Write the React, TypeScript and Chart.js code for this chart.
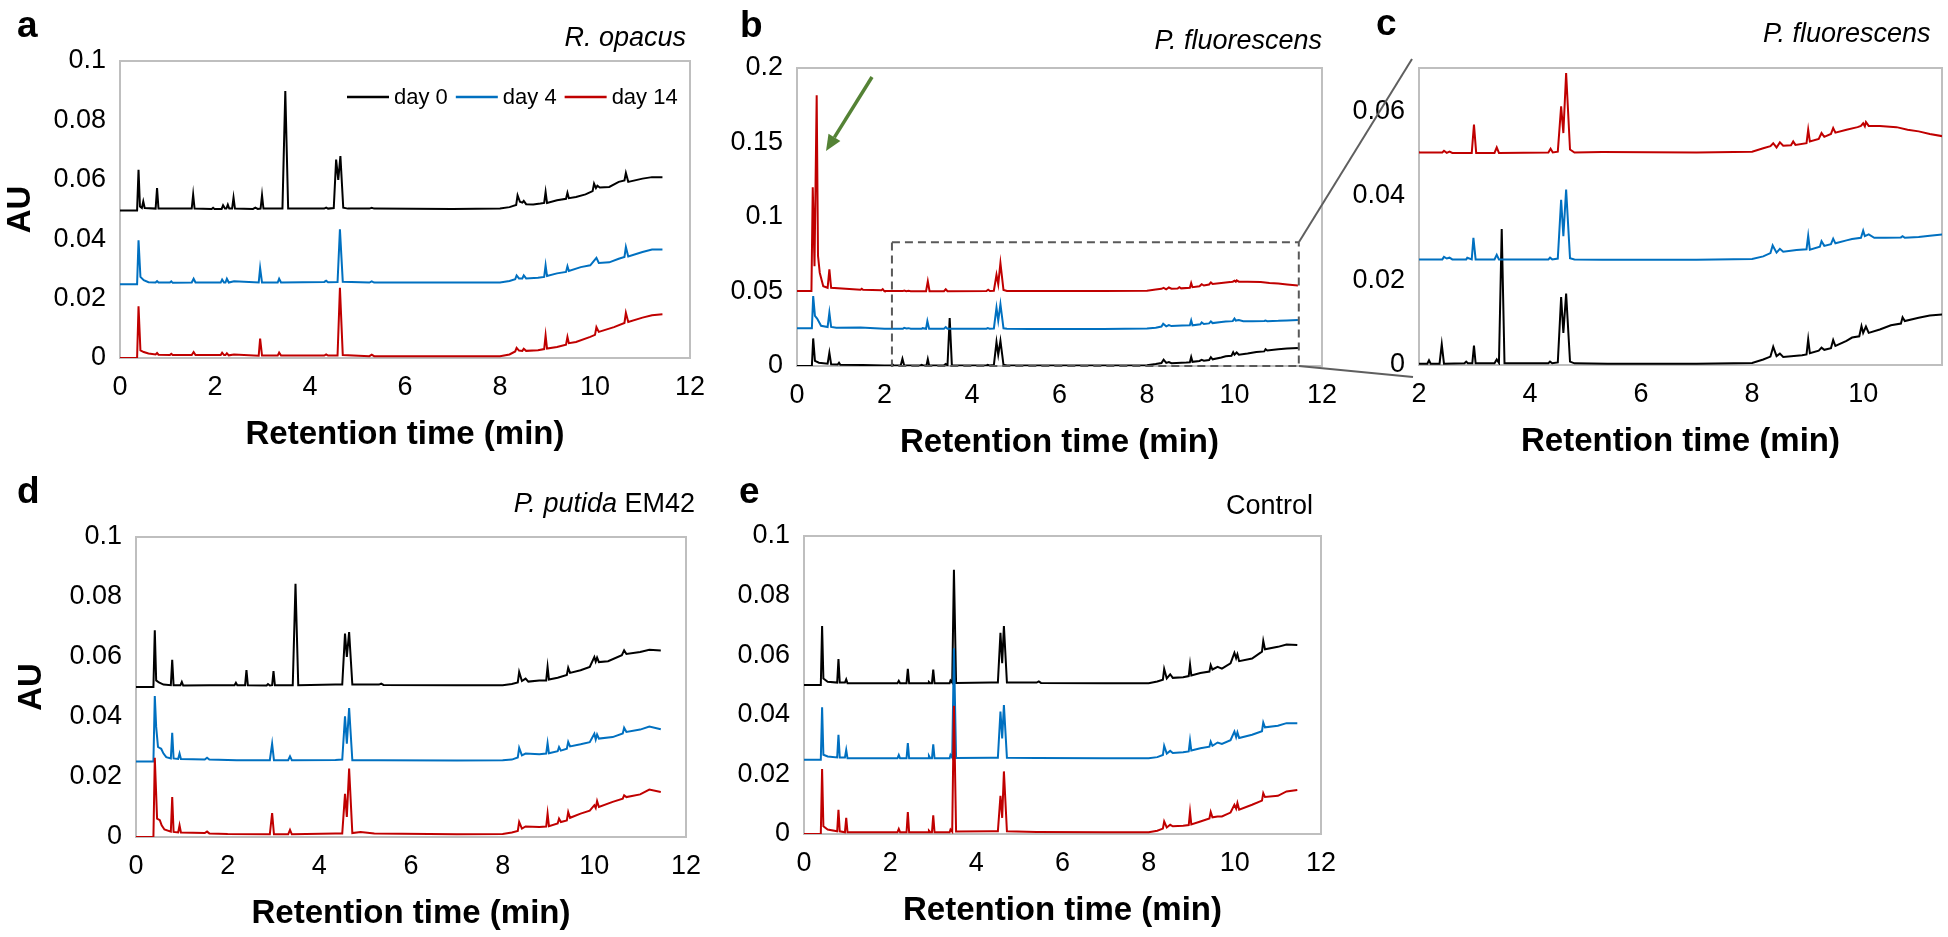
import React, { useEffect, useRef } from 'react';
import { Chart, registerables } from 'chart.js';

Chart.register(...registerables);

type Pt = [number, number];

const FONT = "'Liberation Sans', Arial, Helvetica, sans-serif";
const SERIES_LABELS = ['day 0', 'day 4', 'day 14'];
const SERIES_COLORS = ['#000000', '#0070C0', '#C00000'];
const X_TITLE = 'Retention time (min)';
const Y_TITLE = 'AU';

// ---------- Panel a : R. opacus ----------
const A_DAY0: Pt[] = [[0,0.0497],[0.36,0.0497],[0.39,0.0634],[0.42,0.051],[0.46,0.0505],[0.49,0.0527],[0.52,0.0505],[0.75,0.0503],[0.78,0.0572],[0.81,0.0503],[1.51,0.0503],[1.54,0.055],[1.57,0.0503],[1.93,0.0502],[1.96,0.0506],[1.99,0.0502],[2.14,0.0502],[2.17,0.0514],[2.21,0.0503],[2.24,0.0503],[2.27,0.0516],[2.3,0.0503],[2.36,0.0503],[2.39,0.054],[2.42,0.0503],[2.8,0.0502],[2.85,0.0506],[2.9,0.0502],[2.96,0.0503],[2.99,0.0548],[3.02,0.0503],[3.42,0.0503],[3.48,0.0899],[3.54,0.0503],[4.3,0.0503],[4.34,0.0506],[4.38,0.0503],[4.5,0.0505],[4.55,0.0668],[4.595,0.06],[4.64,0.068],[4.7,0.0506],[4.8,0.0503],[5.25,0.0503],[5.3,0.0506],[5.35,0.0503],[7.0,0.0502],[8.0,0.0503],[8.2,0.0508],[8.34,0.0515],[8.37,0.0548],[8.42,0.0526],[8.47,0.0523],[8.5,0.0529],[8.55,0.0518],[8.7,0.0517],[8.85,0.052],[8.93,0.0522],[8.96,0.0559],[8.99,0.0522],[9.2,0.0531],[9.39,0.0536],[9.42,0.0556],[9.45,0.0538],[9.6,0.0542],[9.8,0.0551],[9.95,0.0562],[9.98,0.0587],[10.02,0.0572],[10.05,0.058],[10.1,0.0574],[10.3,0.0576],[10.5,0.0593],[10.62,0.0598],[10.65,0.0623],[10.7,0.0593],[11.0,0.0604],[11.2,0.0609],[11.42,0.0609]];
const A_DAY4: Pt[] = [[0,0.0248],[0.36,0.0248],[0.39,0.0396],[0.43,0.0273],[0.5,0.0262],[0.6,0.0255],[0.75,0.0254],[0.78,0.0259],[0.81,0.0254],[1.05,0.0254],[1.08,0.0258],[1.11,0.0253],[1.51,0.0254],[1.55,0.0267],[1.59,0.0254],[2.12,0.0254],[2.15,0.0264],[2.19,0.0254],[2.22,0.0254],[2.25,0.0267],[2.29,0.0254],[2.4,0.0258],[2.92,0.0254],[2.95,0.0303],[2.99,0.0254],[3.32,0.0254],[3.35,0.0267],[3.39,0.0254],[4.3,0.0256],[4.34,0.026],[4.38,0.0255],[4.58,0.0256],[4.63,0.0433],[4.69,0.0257],[5.25,0.0254],[5.3,0.0258],[5.35,0.0254],[8.0,0.0254],[8.2,0.0259],[8.32,0.0265],[8.35,0.0278],[8.4,0.0268],[8.47,0.0268],[8.5,0.0278],[8.55,0.0268],[8.8,0.027],[8.93,0.0273],[8.96,0.0312],[8.99,0.0276],[9.2,0.0285],[9.39,0.029],[9.42,0.0309],[9.45,0.0293],[9.7,0.0306],[9.9,0.0312],[10.03,0.0337],[10.08,0.032],[10.3,0.0322],[10.5,0.0334],[10.62,0.034],[10.65,0.0374],[10.7,0.0342],[11.0,0.0357],[11.2,0.0365],[11.42,0.0365]];
const A_DAY14: Pt[] = [[0,0.0],[0.36,0.0],[0.39,0.0174],[0.43,0.0026],[0.5,0.002],[0.6,0.0015],[0.75,0.0012],[0.78,0.0017],[0.81,0.0011],[1.05,0.001],[1.08,0.0014],[1.11,0.001],[1.51,0.001],[1.55,0.002],[1.59,0.001],[2.12,0.001],[2.15,0.0018],[2.19,0.001],[2.22,0.001],[2.25,0.0016],[2.29,0.0009],[2.4,0.0012],[2.92,0.0008],[2.95,0.0065],[2.99,0.0008],[3.32,0.0008],[3.35,0.0018],[3.39,0.0008],[4.3,0.0008],[4.34,0.0012],[4.38,0.0008],[4.58,0.0008],[4.63,0.0236],[4.69,0.001],[5.25,0.0006],[5.3,0.0011],[5.35,0.0006],[8.0,0.0006],[8.2,0.0012],[8.32,0.0022],[8.35,0.0034],[8.4,0.0025],[8.47,0.0024],[8.5,0.0031],[8.55,0.0024],[8.8,0.0026],[8.93,0.003],[8.96,0.0076],[8.99,0.0032],[9.2,0.0037],[9.39,0.0045],[9.42,0.0071],[9.45,0.005],[9.6,0.0054],[9.9,0.0071],[10.0,0.0078],[10.03,0.0104],[10.08,0.0088],[10.4,0.0104],[10.62,0.0118],[10.65,0.0152],[10.7,0.0121],[11.0,0.0136],[11.2,0.0144],[11.42,0.0147]];

// ---------- Panels b & c : P. fluorescens ----------
const PF_DAY0: Pt[] = [[0,0.0],[0.34,0.0],[0.37,0.0185],[0.41,0.0034],[0.5,0.0022],[0.7,0.0015],[0.74,0.0089],[0.78,0.0012],[0.93,0.001],[0.96,0.0022],[0.99,0.0008],[1.5,0.0007],[2.0,0.0003],[2.15,0.0003],[2.18,0.0011],[2.21,0.0003],[2.37,0.0003],[2.41,0.0049],[2.45,0.0003],[2.82,0.0004],[2.85,0.0008],[2.88,0.0004],[2.96,0.0004],[2.99,0.0046],[3.02,0.0004],[3.36,0.0004],[3.4,0.0013],[3.44,0.0005],[3.49,0.0322],[3.54,0.0004],[4.33,0.0004],[4.36,0.0008],[4.4,0.0004],[4.5,0.0006],[4.56,0.0161],[4.6,0.0076],[4.65,0.0169],[4.72,0.0008],[4.8,0.0004],[5.4,0.0003],[7.0,0.0003],[8.0,0.0005],[8.2,0.0013],[8.33,0.002],[8.38,0.0043],[8.44,0.0021],[8.5,0.0027],[8.56,0.0019],[8.9,0.0023],[8.98,0.0025],[9.01,0.0061],[9.04,0.0028],[9.2,0.0034],[9.25,0.0041],[9.3,0.0036],[9.42,0.004],[9.46,0.0059],[9.5,0.0045],[9.7,0.0057],[9.8,0.0065],[9.93,0.0068],[9.97,0.0092],[10.0,0.0076],[10.05,0.0091],[10.1,0.0076],[10.3,0.0084],[10.5,0.0094],[10.68,0.0098],[10.71,0.0113],[10.75,0.0104],[11.0,0.0112],[11.2,0.0117],[11.45,0.012]];
const PF_DAY4: Pt[] = [[0,0.0253],[0.34,0.0253],[0.37,0.0469],[0.41,0.0336],[0.46,0.0318],[0.55,0.027],[0.7,0.0262],[0.74,0.0358],[0.78,0.0262],[0.9,0.0257],[1.45,0.0258],[2.0,0.025],[2.42,0.025],[2.45,0.0256],[2.5,0.0252],[2.55,0.0254],[2.6,0.025],[2.85,0.025],[2.87,0.0254],[2.95,0.025],[2.98,0.0301],[3.02,0.025],[3.36,0.025],[3.4,0.0261],[3.44,0.025],[4.33,0.025],[4.36,0.0254],[4.4,0.025],[4.5,0.0252],[4.56,0.0391],[4.6,0.0305],[4.65,0.0415],[4.72,0.0253],[4.8,0.025],[5.3,0.0249],[7.0,0.0249],[8.0,0.0251],[8.2,0.0257],[8.33,0.0265],[8.37,0.0283],[8.44,0.0266],[8.5,0.0275],[8.56,0.0268],[8.8,0.0272],[8.98,0.0274],[9.01,0.0306],[9.04,0.0273],[9.22,0.028],[9.25,0.0293],[9.3,0.0282],[9.42,0.0286],[9.46,0.0299],[9.5,0.0288],[9.7,0.0295],[9.8,0.0298],[9.96,0.0301],[10.0,0.0318],[10.03,0.0305],[10.1,0.0309],[10.2,0.0301],[10.4,0.0301],[10.68,0.0302],[10.71,0.0305],[10.75,0.0301],[11.0,0.0303],[11.2,0.0306],[11.45,0.0309]];
const PF_DAY14: Pt[] = [[0,0.0503],[0.33,0.0503],[0.36,0.12],[0.4,0.067],[0.45,0.1817],[0.48,0.074],[0.52,0.0626],[0.6,0.0536],[0.7,0.0525],[0.74,0.0648],[0.78,0.0525],[1.45,0.0512],[1.48,0.0518],[1.51,0.0512],[1.93,0.0508],[1.96,0.0516],[1.99,0.0505],[2.0,0.0503],[2.42,0.0503],[2.45,0.0507],[2.5,0.0502],[2.55,0.0505],[2.6,0.0502],[2.95,0.0502],[2.99,0.0569],[3.03,0.0502],[3.36,0.0502],[3.4,0.0515],[3.44,0.0502],[4.33,0.0503],[4.37,0.0512],[4.41,0.0503],[4.5,0.0505],[4.56,0.0612],[4.6,0.0549],[4.65,0.0691],[4.72,0.051],[4.8,0.0503],[5.3,0.0504],[7.0,0.0503],[8.0,0.0505],[8.2,0.0513],[8.33,0.0518],[8.38,0.0525],[8.44,0.0515],[8.5,0.0527],[8.56,0.0519],[8.7,0.052],[8.74,0.0529],[8.78,0.0521],[8.98,0.0525],[9.01,0.0557],[9.04,0.0529],[9.2,0.0535],[9.25,0.0549],[9.3,0.054],[9.42,0.0547],[9.46,0.0561],[9.5,0.055],[9.7,0.0557],[9.9,0.0563],[9.96,0.0566],[10.0,0.0572],[10.03,0.0565],[10.05,0.0575],[10.1,0.0566],[10.3,0.0566],[10.6,0.0563],[10.8,0.0557],[11.0,0.0553],[11.2,0.0547],[11.45,0.0541]];

// ---------- Panel d : P. putida EM42 ----------
const D_DAY0: Pt[] = [[0,0.05],[0.38,0.05],[0.41,0.0689],[0.44,0.0522],[0.5,0.0515],[0.6,0.0508],[0.76,0.0506],[0.79,0.0591],[0.82,0.0506],[0.97,0.0506],[1.0,0.0517],[1.03,0.0505],[1.6,0.0506],[2.15,0.0506],[2.18,0.0514],[2.21,0.0506],[2.38,0.0506],[2.41,0.0556],[2.44,0.0506],[2.85,0.0505],[2.88,0.051],[2.92,0.0505],[2.97,0.0506],[3.0,0.0553],[3.03,0.0506],[3.42,0.0506],[3.48,0.0844],[3.54,0.0506],[4.35,0.0508],[4.5,0.0508],[4.56,0.0678],[4.6,0.06],[4.65,0.0683],[4.72,0.0508],[5.3,0.0508],[5.35,0.0511],[5.4,0.0507],[7.0,0.0506],[8.0,0.0506],[8.2,0.051],[8.33,0.0515],[8.36,0.055],[8.42,0.052],[8.5,0.0528],[8.56,0.0518],[8.8,0.0522],[8.95,0.0522],[8.98,0.0567],[9.01,0.0525],[9.2,0.0531],[9.4,0.054],[9.43,0.0564],[9.47,0.0547],[9.7,0.0556],[9.9,0.0567],[10.0,0.06],[10.03,0.0585],[10.06,0.0598],[10.1,0.0583],[10.3,0.0586],[10.6,0.0606],[10.65,0.0622],[10.7,0.061],[11.0,0.0617],[11.2,0.0624],[11.45,0.0622]];
const D_DAY4: Pt[] = [[0,0.0252],[0.38,0.0252],[0.41,0.047],[0.44,0.0367],[0.48,0.03],[0.55,0.0294],[0.6,0.0278],[0.66,0.0266],[0.76,0.0262],[0.79,0.0347],[0.82,0.0262],[0.92,0.026],[0.95,0.0278],[0.98,0.026],[1.5,0.0258],[1.55,0.0264],[1.6,0.0258],[2.2,0.0256],[2.92,0.0256],[2.97,0.0311],[3.01,0.0256],[3.32,0.0256],[3.36,0.0269],[3.4,0.0256],[4.35,0.0257],[4.5,0.0258],[4.56,0.0402],[4.6,0.0311],[4.65,0.043],[4.72,0.0256],[5.3,0.0256],[7.0,0.0255],[8.0,0.0256],[8.2,0.0258],[8.33,0.0265],[8.36,0.0297],[8.42,0.0272],[8.5,0.0278],[8.8,0.0276],[8.95,0.0278],[8.98,0.0313],[9.01,0.0279],[9.2,0.0286],[9.23,0.03],[9.27,0.0288],[9.4,0.0294],[9.43,0.0317],[9.47,0.0302],[9.7,0.0309],[9.9,0.0316],[10.0,0.0344],[10.03,0.0325],[10.06,0.0342],[10.1,0.0328],[10.4,0.0333],[10.62,0.0345],[10.65,0.0364],[10.7,0.035],[11.0,0.0358],[11.2,0.0368],[11.45,0.0359]];
const D_DAY14: Pt[] = [[0,0.0],[0.38,0.0],[0.41,0.0264],[0.43,0.0183],[0.46,0.0061],[0.52,0.0056],[0.56,0.0039],[0.62,0.0025],[0.76,0.0018],[0.79,0.0133],[0.82,0.0017],[0.92,0.0015],[0.95,0.0039],[0.98,0.0015],[1.5,0.0013],[1.55,0.0018],[1.6,0.0012],[2.0,0.001],[2.92,0.0009],[2.97,0.008],[3.01,0.0009],[3.32,0.0009],[3.36,0.0024],[3.4,0.0009],[4.35,0.0012],[4.5,0.0012],[4.56,0.0144],[4.6,0.0067],[4.65,0.0228],[4.72,0.0013],[4.9,0.0017],[5.2,0.0012],[7.0,0.0009],[8.0,0.001],[8.2,0.0015],[8.33,0.002],[8.36,0.005],[8.42,0.0028],[8.5,0.0035],[8.8,0.0033],[8.95,0.0035],[8.98,0.0078],[9.01,0.0036],[9.2,0.0045],[9.23,0.0061],[9.27,0.005],[9.4,0.0055],[9.43,0.0083],[9.47,0.0064],[9.7,0.0078],[9.9,0.0088],[10.0,0.0106],[10.03,0.0097],[10.06,0.012],[10.1,0.01],[10.4,0.0117],[10.62,0.0128],[10.65,0.0139],[10.7,0.0133],[11.0,0.0142],[11.2,0.0158],[11.45,0.015]];

// ---------- Panel e : Control ----------
const E_DAY0: Pt[] = [[0,0.05],[0.39,0.05],[0.42,0.0698],[0.45,0.0522],[0.55,0.0511],[0.77,0.0508],[0.8,0.0587],[0.83,0.0508],[0.95,0.0508],[0.98,0.0519],[1.01,0.0506],[2.17,0.0506],[2.2,0.0514],[2.23,0.0506],[2.38,0.0506],[2.41,0.0554],[2.44,0.0506],[2.88,0.0506],[2.9,0.051],[2.93,0.0506],[2.97,0.0506],[3.0,0.0552],[3.03,0.0506],[3.38,0.0506],[3.4,0.0515],[3.44,0.0508],[3.48,0.0887],[3.53,0.0507],[4.35,0.0508],[4.5,0.0508],[4.56,0.0675],[4.6,0.0573],[4.64,0.0698],[4.71,0.0508],[5.4,0.0508],[5.45,0.0512],[5.5,0.0507],[7.0,0.0506],[8.0,0.0506],[8.2,0.0512],[8.33,0.0518],[8.36,0.0554],[8.42,0.0522],[8.5,0.0536],[8.56,0.0524],[8.8,0.0526],[8.93,0.053],[8.96,0.0569],[8.99,0.0532],[9.2,0.054],[9.41,0.0545],[9.44,0.0567],[9.48,0.0552],[9.6,0.0561],[9.7,0.0555],[9.9,0.0573],[9.99,0.0608],[10.03,0.059],[10.06,0.0603],[10.1,0.058],[10.4,0.0589],[10.63,0.0612],[10.66,0.0648],[10.7,0.062],[11.0,0.0628],[11.2,0.0636],[11.45,0.0634]];
const E_DAY4: Pt[] = [[0,0.0249],[0.39,0.0249],[0.42,0.0425],[0.45,0.0266],[0.55,0.026],[0.77,0.0257],[0.8,0.0333],[0.83,0.0257],[0.95,0.0257],[0.98,0.0282],[1.01,0.0254],[2.17,0.0254],[2.2,0.0265],[2.23,0.0254],[2.38,0.0254],[2.41,0.0305],[2.44,0.0254],[2.88,0.0254],[2.9,0.0262],[2.93,0.0254],[2.97,0.0254],[3.0,0.0301],[3.03,0.0254],[3.38,0.0254],[3.4,0.0265],[3.44,0.0256],[3.48,0.0623],[3.53,0.0255],[4.35,0.0256],[4.5,0.0256],[4.56,0.0411],[4.6,0.0321],[4.64,0.0433],[4.71,0.0256],[5.4,0.0255],[7.0,0.0254],[8.0,0.0254],[8.2,0.0258],[8.33,0.0265],[8.36,0.0296],[8.42,0.027],[8.5,0.0279],[8.56,0.0272],[8.8,0.0274],[8.93,0.0277],[8.96,0.0314],[8.99,0.028],[9.2,0.0288],[9.41,0.0293],[9.44,0.031],[9.48,0.0296],[9.6,0.0307],[9.7,0.0302],[9.9,0.0315],[9.99,0.0344],[10.03,0.0325],[10.06,0.0341],[10.1,0.0322],[10.4,0.0333],[10.63,0.0345],[10.66,0.0374],[10.7,0.0358],[11.0,0.0363],[11.2,0.0372],[11.45,0.0372]];
const E_DAY14: Pt[] = [[0,0.0],[0.39,0.0],[0.42,0.0218],[0.45,0.0026],[0.55,0.0015],[0.77,0.0009],[0.8,0.0081],[0.83,0.0009],[0.95,0.0006],[0.98,0.0054],[1.01,0.0006],[2.17,0.0006],[2.2,0.0017],[2.23,0.0006],[2.38,0.0006],[2.41,0.0074],[2.44,0.0006],[2.88,0.0006],[2.9,0.0011],[2.93,0.0006],[2.97,0.0006],[3.0,0.0063],[3.03,0.0006],[3.38,0.0006],[3.4,0.0015],[3.44,0.0008],[3.48,0.043],[3.53,0.0008],[4.35,0.0009],[4.5,0.0009],[4.56,0.0128],[4.6,0.0054],[4.64,0.021],[4.71,0.0009],[5.4,0.0007],[7.0,0.0006],[8.0,0.0006],[8.2,0.0011],[8.33,0.0018],[8.36,0.0042],[8.42,0.0022],[8.5,0.0031],[8.56,0.0026],[8.8,0.0028],[8.93,0.003],[8.96,0.0074],[8.99,0.0032],[9.2,0.0042],[9.41,0.0052],[9.44,0.0074],[9.48,0.0056],[9.6,0.0059],[9.7,0.0059],[9.9,0.0072],[9.99,0.0098],[10.03,0.0085],[10.06,0.0104],[10.1,0.0082],[10.4,0.0098],[10.63,0.0112],[10.66,0.0137],[10.7,0.0124],[11.0,0.0128],[11.2,0.0143],[11.45,0.0148]];

// dashed zoom region drawn on panel b (data units)
const ZOOM_X: [number, number] = [2.17, 11.47];
const ZOOM_Y: [number, number] = [0, 0.083];

interface PanelSpec {
  id: string;
  left: number; top: number; width: number; height: number;
  padTop: number; padRight: number;
  yAxisWidth: number; xAxisHeight: number;
  xMin: number; xMax: number; xStep: number;
  yMax: number; yStep: number;
  series: Pt[][];
  showYTitle: boolean; yTitlePad: number;
  legend?: boolean;
  zoomBox?: boolean;
}

const PANELS: PanelSpec[] = [
  { id: 'a', left: 0, top: 0, width: 720, height: 455, padTop: 61, padRight: 30, yAxisWidth: 120, xAxisHeight: 97,
    xMin: 0, xMax: 12, xStep: 2, yMax: 0.1, yStep: 0.02, series: [A_DAY0, A_DAY4, A_DAY14], showYTitle: true, yTitlePad: 1, legend: true },
  { id: 'b', left: 710, top: 0, width: 640, height: 463, padTop: 68, padRight: 28, yAxisWidth: 87, xAxisHeight: 97,
    xMin: 0, xMax: 12, xStep: 2, yMax: 0.2, yStep: 0.05, series: [PF_DAY0, PF_DAY4, PF_DAY14], showYTitle: false, yTitlePad: 0, zoomBox: true },
  { id: 'c', left: 1350, top: 0, width: 598, height: 462, padTop: 68, padRight: 6, yAxisWidth: 69, xAxisHeight: 97,
    xMin: 2, xMax: 11.42, xStep: 2, yMax: 0.0703, yStep: 0.02, series: [PF_DAY0, PF_DAY4, PF_DAY14], showYTitle: false, yTitlePad: 0 },
  { id: 'd', left: 0, top: 470, width: 720, height: 464, padTop: 67, padRight: 34, yAxisWidth: 136, xAxisHeight: 97,
    xMin: 0, xMax: 12, xStep: 2, yMax: 0.1, yStep: 0.02, series: [D_DAY0, D_DAY4, D_DAY14], showYTitle: true, yTitlePad: 12 },
  { id: 'e', left: 710, top: 470, width: 640, height: 461, padTop: 66, padRight: 29, yAxisWidth: 94, xAxisHeight: 97,
    xMin: 0, xMax: 12, xStep: 2, yMax: 0.1, yStep: 0.02, series: [E_DAY0, E_DAY4, E_DAY14], showYTitle: false, yTitlePad: 0 },
];

const fmt = (v: number | string) => String(Number(Number(v).toFixed(4)));
// ticks only at multiples of the step, between the axis limits
const stepTicks = (step: number) => (s: any) => {
  const out: { value: number }[] = [];
  const start = Math.ceil(s.min / step - 1e-9);
  for (let k = start; k * step <= s.max + 1e-9; k++) out.push({ value: Number((k * step).toFixed(6)) });
  s.ticks = out;
};

const framePlugin = {
  id: 'frameBox',
  beforeDatasetsDraw(chart: any) {
    const { ctx, chartArea } = chart;
    ctx.save();
    ctx.strokeStyle = '#bfbfbf';
    ctx.lineWidth = 2;
    ctx.strokeRect(chartArea.left, chartArea.top, chartArea.right - chartArea.left, chartArea.bottom - chartArea.top);
    ctx.restore();
  },
};

function makeZoomBoxPlugin() {
  return {
    id: 'zoomBoxOverlay',
    afterDatasetsDraw(chart: any) {
      const { ctx } = chart;
      const xs = chart.scales.x, ys = chart.scales.y;
      const l = xs.getPixelForValue(ZOOM_X[0]);
      const r = xs.getPixelForValue(ZOOM_X[1]);
      const t = ys.getPixelForValue(ZOOM_Y[1]);
      const b = ys.getPixelForValue(ZOOM_Y[0]);
      ctx.save();
      ctx.strokeStyle = '#595959';
      ctx.lineWidth = 2;
      ctx.setLineDash([8, 5]);
      ctx.strokeRect(l, t, r - l, b - t);
      ctx.restore();
    },
  };
}

function makeLegendPlugin() {
  return {
    id: 'inlineLegend',
    afterDraw(chart: any) {
      const { ctx, chartArea } = chart;
      let x = chartArea.left + 227;
      const y = chartArea.top + 36;
      ctx.save();
      ctx.font = `22px ${FONT}`;
      ctx.textBaseline = 'middle';
      chart.data.datasets.forEach((ds: any) => {
        ctx.strokeStyle = ds.borderColor;
        ctx.lineWidth = 2.5;
        ctx.beginPath();
        ctx.moveTo(x, y);
        ctx.lineTo(x + 42, y);
        ctx.stroke();
        x += 47;
        ctx.fillStyle = '#000';
        ctx.fillText(ds.label, x, y + 1);
        x += ctx.measureText(ds.label).width + 8;
      });
      ctx.restore();
    },
  };
}

function ChartPanel({ spec }: { spec: PanelSpec }) {
  const ref = useRef<HTMLCanvasElement | null>(null);
  useEffect(() => {
    if (!ref.current) return;
    const plugins: any[] = [framePlugin];
    if (spec.zoomBox) plugins.push(makeZoomBoxPlugin());
    if (spec.legend) plugins.push(makeLegendPlugin());
    const chart = new Chart(ref.current, {
      type: 'line',
      data: {
        datasets: spec.series.map((pts, i) => ({
          label: SERIES_LABELS[i],
          data: pts.map(([x, y]) => ({ x, y })),
          borderColor: SERIES_COLORS[i],
          backgroundColor: SERIES_COLORS[i],
          borderWidth: 2,
          pointRadius: 0,
          tension: 0,
          fill: false,
          order: 2 - i,
        })),
      },
      options: {
        responsive: false,
        animation: false,
        events: [],
        layout: { padding: { left: 0, top: spec.padTop, right: spec.padRight, bottom: 0 } },
        plugins: { legend: { display: false }, tooltip: { enabled: false }, title: { display: false } },
        scales: {
          x: {
            type: 'linear',
            min: spec.xMin,
            max: spec.xMax,
            afterFit: (s: any) => { s.height = spec.xAxisHeight; },
            afterBuildTicks: stepTicks(spec.xStep),
            grid: { display: false, drawTicks: false },
            border: { display: false },
            ticks: { stepSize: spec.xStep, padding: 13, color: '#000', font: { family: FONT, size: 27 }, maxRotation: 0, autoSkip: false, callback: (v: any) => fmt(v) },
            title: { display: true, text: X_TITLE, color: '#000', font: { family: FONT, size: 33, weight: 'bold' }, padding: { top: 0, bottom: 0 } },
          },
          y: {
            type: 'linear',
            min: 0,
            max: spec.yMax,
            afterFit: (s: any) => { s.width = spec.yAxisWidth; },
            afterBuildTicks: stepTicks(spec.yStep),
            grid: { display: false, drawTicks: false },
            border: { display: false },
            ticks: { stepSize: spec.yStep, padding: 14, color: '#000', font: { family: FONT, size: 27 }, autoSkip: false, callback: (v: any) => fmt(v) },
            title: { display: spec.showYTitle, text: Y_TITLE, color: '#000', font: { family: FONT, size: 33, weight: 'bold' }, padding: { top: spec.yTitlePad, bottom: 0 } },
          },
        },
      } as any,
      plugins,
    });
    return () => chart.destroy();
  }, [spec]);
  return (
    <canvas
      ref={ref}
      width={spec.width}
      height={spec.height}
      style={{ position: 'absolute', left: spec.left, top: spec.top, width: spec.width, height: spec.height }}
    />
  );
}

function Txt(props: { x: number; y: number; size: number; bold?: boolean; italic?: boolean; right?: boolean; children: React.ReactNode }) {
  const { x, y, size, bold, italic, right, children } = props;
  return (
    <div
      style={{
        position: 'absolute',
        left: x,
        top: y - 0.8465 * size,
        fontFamily: FONT,
        fontSize: size,
        lineHeight: `${size}px`,
        fontWeight: bold ? 'bold' : 'normal',
        fontStyle: italic ? 'italic' : 'normal',
        whiteSpace: 'nowrap',
        color: '#000',
        transform: right ? 'translateX(-100%)' : undefined,
      }}
    >
      {children}
    </div>
  );
}

export default function App() {
  return (
    <div style={{ position: 'absolute', left: 0, top: 0, width: 1948, height: 937, overflow: 'hidden', background: '#fff' }}>
      {PANELS.map((p) => <ChartPanel key={p.id} spec={p} />)}

      <svg width={1948} height={937} style={{ position: 'absolute', left: 0, top: 0, pointerEvents: 'none' }}>
        <line x1={1299} y1={242} x2={1412} y2={59} stroke="#5f5f5f" strokeWidth={2} />
        <line x1={1299} y1={366} x2={1413} y2={377} stroke="#5f5f5f" strokeWidth={2} />
        <line x1={872} y1={77} x2={834.4} y2={137.4} stroke="#548235" strokeWidth={3.5} />
        <polygon points="826,151 840.4,141.1 828.5,133.7" fill="#548235" />
      </svg>

      <Txt x={17} y={37} size={37} bold>a</Txt>
      <Txt x={740} y={37} size={37} bold>b</Txt>
      <Txt x={1376} y={35} size={37} bold>c</Txt>
      <Txt x={17} y={503} size={37} bold>d</Txt>
      <Txt x={739} y={503} size={37} bold>e</Txt>

      <Txt x={686} y={47} size={27} italic right>R. opacus</Txt>
      <Txt x={1322} y={50} size={27} italic right>P. fluorescens</Txt>
      <Txt x={1763} y={43} size={27} italic>P. fluorescens</Txt>
      <Txt x={695} y={513} size={27} right><i>P. putida</i> EM42</Txt>
      <Txt x={1313} y={515} size={27} right>Control</Txt>
    </div>
  );
}
